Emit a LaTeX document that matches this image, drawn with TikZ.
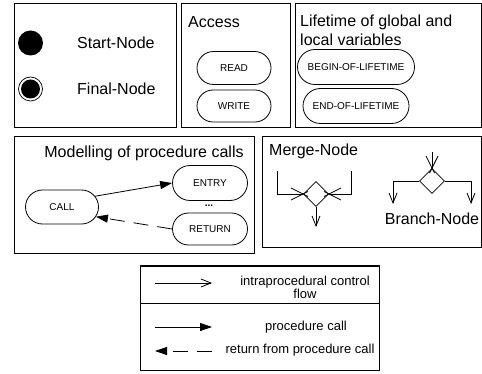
\documentclass[tikz,border=0pt]{standalone}
\usepackage{fontspec}
\setmainfont{Liberation Sans}
\usetikzlibrary{shapes.geometric,shapes.misc,arrows.meta}

\begin{document}
\begin{tikzpicture}[x=1pt,y=-1pt,
  panel/.style={draw=black,line width=1pt},
  term/.style={rounded rectangle,draw,line width=0.8pt,inner sep=0pt,
    font=\fontsize{10}{12}\selectfont},
  title/.style={font=\fontsize{16}{19}\selectfont,inner sep=0pt},
  legtext/.style={font=\fontsize{13}{13}\selectfont,inner sep=0pt,align=center},
  callarrow/.style={line width=0.8pt,-{Triangle[length=12pt,width=8pt]}},
  retarrow/.style={callarrow,dash pattern=on 15pt off 9pt},
  flowarrow/.style={line width=0.8pt,-{Straight Barb[length=10pt,width=8pt]}},
  wire/.style={line width=0.8pt},
  gate/.style={diamond,draw,line width=0.8pt,minimum size=25pt,inner sep=0pt},
]
\useasboundingbox (0,0) rectangle (482,374);

% panels
\draw[panel] (14,4) rectangle (176,128);
\draw[panel] (181,4) rectangle (290,128);
\draw[panel] (295,4) rectangle (481,128);
\draw[panel] (14,137) rectangle (254,254);
\draw[panel] (262,137) rectangle (481,248);
\draw[panel] (140,266) rectangle (379,370);
\draw[panel] (140,303) -- (379,303);

% start and final nodes
\node[circle,fill=black,minimum size=25pt,inner sep=0pt] (start) at (30.5,43) {};
\node[circle,draw,line width=0.7pt,minimum size=24pt,inner sep=0pt] (final) at (30.5,89) {};
\node[circle,fill=black,minimum size=19pt,inner sep=0pt] (finalcore) at (final) {};
\node[title,anchor=west] (startlbl) at (77,43) {Start-Node};
\node[title,anchor=west] (finallbl) at (77,89) {Final-Node};

% access
\node[title,anchor=west] (accesslbl) at (188,22) {Access};
\node[term,minimum width=74pt,minimum height=33pt] (read) at (234,68) {READ};
\node[term,minimum width=74pt,minimum height=32pt] (write) at (234,106) {WRITE};

% lifetime
\node[title,anchor=north west,align=left] (lifelbl) at (300,15) {Lifetime of global and\\local variables};
\node[term,minimum width=117pt,minimum height=35pt] (begin) at (356,67) {BEGIN-OF-LIFETIME};
\node[term,minimum width=106pt,minimum height=35pt] (end) at (356,106) {END-OF-LIFETIME};

% procedure calls
\node[title] (proclbl) at (144,153) {Modelling of procedure calls};
\node[term,minimum width=73pt,minimum height=34pt] (call) at (62,207) {CALL};
\node[term,minimum width=75pt,minimum height=35pt] (entry) at (210,183) {ENTRY};
\node[term,minimum width=75pt,minimum height=32pt] (return) at (210,229) {RETURN};
\node[font=\fontsize{10}{12}\selectfont\bfseries,inner sep=0pt] (dots) at (209,206) {...};
\draw[callarrow] (call.18) -- (entry.west);
\draw[retarrow] (return.west) -- (call.-16);

% merge node
\node[title,anchor=west] (mergelbl) at (269,151) {Merge-Node};
\node[gate] (md) at (316,194) {};
\coordinate (mleft) at (277,171);
\coordinate (mright) at (351,171);
\coordinate (mout) at (316,227);
\draw[wire] (mleft) |- (md.west);
\draw[wire] (mright) |- (md.east);
\draw[wire] (md.west) ++(-12,-6) -- ++(17,8.5);
\draw[wire] (md.west) ++(-12,6) -- ++(17,-8.5);
\draw[wire] (md.east) ++(12,-6) -- ++(-17,8.5);
\draw[wire] (md.east) ++(12,6) -- ++(-17,-8.5);
\draw[flowarrow] (md.south) -- (mout);

% branch node
\node[gate] (bd) at (432,181) {};
\coordinate (bin) at (432,152);
\coordinate (bleft) at (393,204);
\coordinate (bright) at (471,204);
\draw[wire] (bin) -- (bd.north);
\draw[wire] (bd.north) ++(-6,-12) -- ++(8.5,17);
\draw[wire] (bd.north) ++(6,-12) -- ++(-8.5,17);
\draw[flowarrow] (bd.west) -| (bleft);
\draw[flowarrow] (bd.east) -| (bright);
\node[title] (branchlbl) at (432,219) {Branch-Node};

% legend
\coordinate (l1a) at (155,283); \coordinate (l1b) at (212,283);
\coordinate (l2a) at (155,327); \coordinate (l2b) at (212,327);
\coordinate (l3a) at (212,351); \coordinate (l3b) at (155,351);
\draw[flowarrow] (l1a) -- (l1b);
\draw[callarrow] (l2a) -- (l2b);
\draw[retarrow] (l3a) -- (l3b);
\node[legtext] (leg1) at (305,287) {intraprocedural control\\flow};
\node[legtext] (leg2) at (306,327) {procedure call};
\node[legtext] (leg3) at (300,350) {return from procedure call};
\end{tikzpicture}
\end{document}
